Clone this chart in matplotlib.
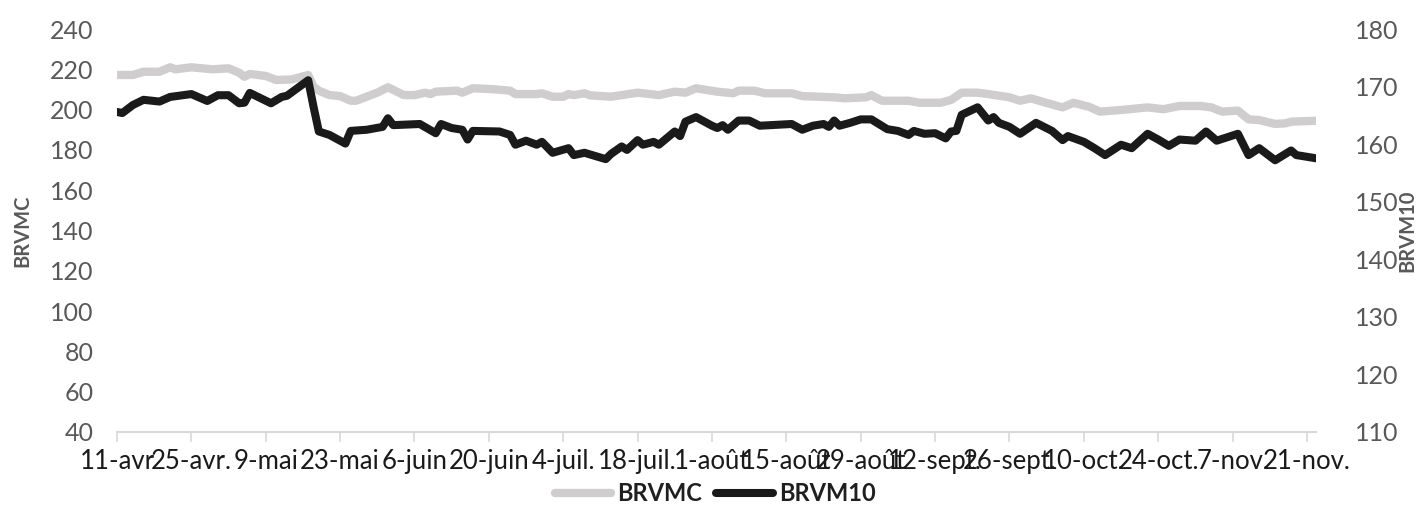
import matplotlib
matplotlib.use("Agg")
import matplotlib.pyplot as plt
import pandas as pd

plt.rcParams['font.family'] = ['Lato', 'DejaVu Sans']

# Données (jours depuis le 11 avril 2022)
debut = pd.Timestamp("2022-04-11")

jours_brvmc = [0, 3, 5, 8, 10, 11, 14, 18, 21, 23, 24, 25, 28, 30, 33, 36, 37, 38,
               40, 42, 44, 45, 47, 49, 51, 54, 56, 58, 59, 60, 64, 65, 67, 71, 74,
               75, 79, 80, 82, 84, 85, 86, 88, 89, 93, 98, 102, 105, 107, 109, 113,
               116, 117, 120, 122, 127, 129, 135, 137, 141, 142, 144, 149, 151, 155,
               157, 159, 162, 164, 168, 170, 172, 177, 178, 180, 183, 185, 189, 194,
               197, 200, 204, 206, 208, 211, 213, 215, 218, 220, 221, 226]
brvmc = [217.2, 217.2, 218.8, 218.8, 221.0, 220.0, 221.0, 220.0, 220.5, 218.3, 216.3,
         217.7, 216.7, 214.7, 215.0, 217.2, 211.4, 209.4, 207.2, 206.7, 204.4, 204.4,
         206.4, 208.4, 211.1, 207.2, 207.2, 208.4, 207.7, 208.9, 209.4, 208.4, 210.6,
         210.1, 209.4, 207.7, 207.7, 208.1, 206.4, 206.4, 207.7, 207.2, 208.1, 207.1,
         206.4, 208.4, 207.2, 208.9, 208.4, 210.6, 208.9, 208.1, 209.4, 209.4, 208.1,
         208.1, 206.7, 206.1, 205.6, 206.1, 207.2, 204.4, 204.4, 203.4, 203.4, 204.8,
         208.4, 208.4, 207.7, 206.1, 204.4, 205.6, 201.8, 201.1, 203.4, 201.4, 199.0,
         199.8, 201.1, 200.2, 201.8, 201.8, 201.1, 199.0, 199.5, 195.2, 194.8, 192.9,
         193.2, 194.0, 194.5]

jours_brvm10 = [0, 1, 3, 5, 8, 10, 14, 17, 19, 21, 23, 24, 25, 29, 31, 32, 36, 37, 38,
                40, 43, 44, 47, 50, 51, 52, 57, 60, 61, 63, 65, 66, 67, 72, 74, 75, 77,
                79, 80, 82, 85, 86, 88, 92, 93, 95, 96, 98, 99, 101, 102, 105, 106, 107,
                109, 112, 113, 114, 115, 117, 119, 121, 127, 129, 131, 133, 134, 135,
                136, 138, 140, 142, 145, 147, 149, 150, 152, 154, 156, 157, 158, 159,
                162, 164, 165, 166, 168, 170, 173, 176, 178, 179, 182, 184, 186, 189,
                191, 194, 196, 198, 200, 203, 205, 207, 211, 213, 215, 218, 221, 222, 226]
brvm10 = [165.6, 165.4, 166.8, 167.7, 167.4, 168.2, 168.7, 167.5, 168.5, 168.5, 167.1,
          167.2, 168.9, 167.1, 168.2, 168.4, 171.1, 166.5, 162.2, 161.6, 160.1, 162.3,
          162.5, 163.0, 164.5, 163.3, 163.5, 161.9, 163.5, 162.8, 162.5, 160.8, 162.3,
          162.2, 161.6, 159.9, 160.6, 159.9, 160.4, 158.5, 159.3, 158.1, 158.5, 157.4,
          158.3, 159.6, 159.0, 160.7, 159.9, 160.4, 159.9, 162.2, 161.4, 163.9, 164.7,
          163.2, 162.8, 163.3, 162.5, 164.1, 164.1, 163.2, 163.5, 162.5, 163.2, 163.5,
          163.0, 164.1, 163.2, 163.7, 164.3, 164.3, 162.6, 162.3, 161.6, 162.3, 161.8,
          161.9, 161.0, 162.2, 162.3, 165.1, 166.4, 164.1, 164.7, 163.7, 163.0, 161.8,
          163.7, 162.3, 160.7, 161.4, 160.4, 159.3, 158.1, 159.9, 159.3, 161.8, 160.8,
          159.7, 160.8, 160.6, 162.2, 160.6, 161.8, 158.1, 159.3, 157.2, 158.9, 158.1,
          157.5]

etiquettes_x = ["11-avr", "25-avr.", "9-mai", "23-mai", "6-juin", "20-juin", "4-juil.",
                "18-juil.", "1-août", "15-août", "29-août", "12-sept.", "26-sept.",
                "10-oct.", "24-oct.", "7-nov.", "21-nov."]

dates_brvmc = debut + pd.to_timedelta(jours_brvmc, unit="D")
dates_brvm10 = debut + pd.to_timedelta(jours_brvm10, unit="D")
dates_ticks = pd.date_range(debut, periods=len(etiquettes_x), freq="14D")

fig = plt.figure(figsize=(14.16, 5.09), dpi=100)
ax = fig.add_axes([0.0826, 0.1513, 0.8468, 0.7917])
ax2 = ax.twinx()

gris = "#cfcdcd"
noir = "#1a1a1a"
texte = "#595959"

l1, = ax.plot(dates_brvmc, brvmc, color=gris, lw=6, solid_joinstyle="round",
              solid_capstyle="round", label="BRVMC")
l2, = ax2.plot(dates_brvm10, brvm10, color=noir, lw=5.8, solid_joinstyle="round",
               solid_capstyle="round", label="BRVM10")

ax.set_xlim(debut, debut + pd.Timedelta(days=225.7))
ax.set_ylim(40, 240)
ax2.set_ylim(110, 180)
ax.set_yticks(range(40, 241, 20))
ax2.set_yticks(range(110, 181, 10))

ax.set_xticks(dates_ticks)
ax.set_xticklabels(etiquettes_x, fontsize=18.5, color="#1a1a1a")
ax.tick_params(axis="x", length=7, width=1.2, color="#d9d9d9", pad=5)
ax.tick_params(axis="y", length=0, pad=17, labelsize=18, labelcolor=texte)
ax2.tick_params(axis="y", length=0, pad=28, labelsize=18, labelcolor=texte)

for a in (ax, ax2):
    for s in ("top", "left", "right"):
        a.spines[s].set_visible(False)
ax.spines["bottom"].set_color("#d9d9d9")
ax.spines["bottom"].set_linewidth(1.5)
ax2.spines["bottom"].set_visible(False)

ax.set_ylabel("BRVMC", fontsize=14.5, fontweight="bold", color=texte)
ax2.set_ylabel("BRVM10", fontsize=14.5, fontweight="bold", color=texte, rotation=90)
ax.yaxis.set_label_coords(-0.0709, 0.5)
ax2.yaxis.set_label_coords(1.0676, 0.5)

leg = fig.legend(handles=[l1, l2], loc="center", bbox_to_anchor=(0.505, 0.03),
                 ncol=2, frameon=False, handlelength=2.4, columnspacing=0.6,
                 handletextpad=0.25, prop={"size": 17, "weight": "bold"})
for t in leg.get_texts():
    t.set_color("#1f1f1f")

fig.savefig("out.png", dpi=100)
plt.close(fig)
